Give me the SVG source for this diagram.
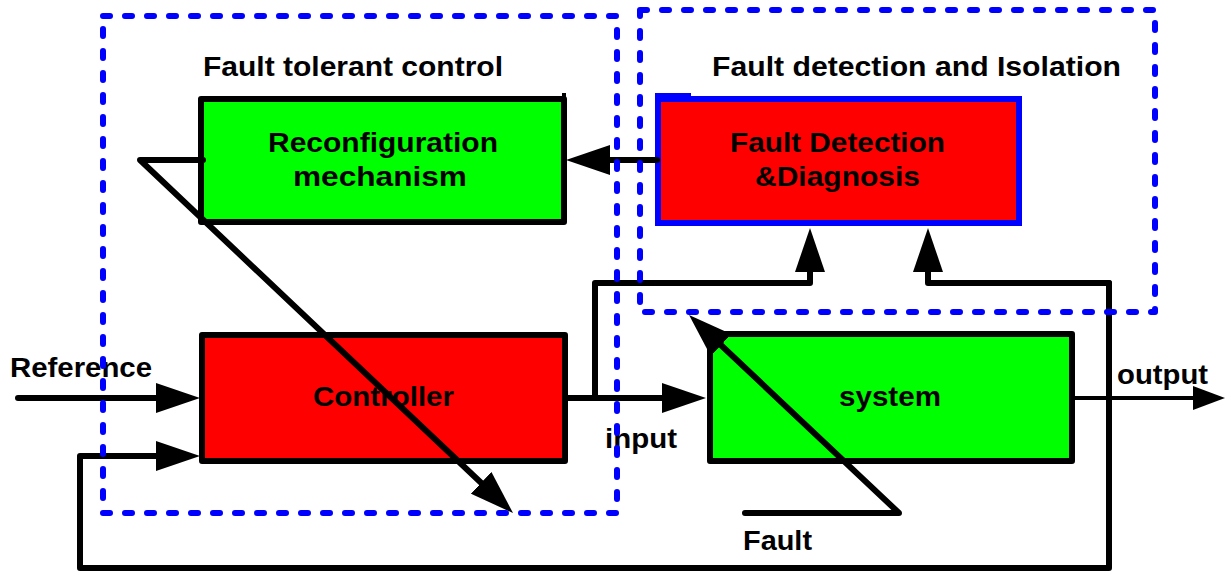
<svg xmlns="http://www.w3.org/2000/svg" width="1225" height="573" viewBox="0 0 1225 573">
<style>
.lbl{font-family:"Liberation Sans",Arial,sans-serif;font-weight:bold;font-size:27px;fill:#000}
.mid{text-anchor:middle}
.box{stroke:#000;stroke-width:6;stroke-linejoin:round}
.green{fill:#00ff00}
.red{fill:#ff0000}
.conn{fill:none;stroke:#000;stroke-width:6;stroke-linejoin:round;stroke-linecap:round}
.thin{fill:none;stroke:#000;stroke-width:4}
.grp{fill:none;stroke:#0000ff;stroke-width:6;stroke-dasharray:7 15;stroke-linecap:round;stroke-linejoin:round}
</style>
<defs>
<marker id="ah" viewBox="0 0 44 30" refX="24" refY="15" markerWidth="44" markerHeight="30" markerUnits="userSpaceOnUse" orient="auto">
<path d="M0,0 L44,15 L0,30 Z" fill="#000"/>
</marker>
<marker id="ahs" viewBox="0 0 32 24" refX="16" refY="12" markerWidth="32" markerHeight="24" markerUnits="userSpaceOnUse" orient="auto">
<path d="M0,0 L32,12 L0,24 Z" fill="#000"/>
</marker>
</defs>
<rect width="1225" height="573" fill="#fff"/>

<g id="reconfiguration">
<rect class="box green" x="201" y="99" width="363" height="123"/>
<line x1="564" y1="93" x2="564" y2="100" stroke="#000" stroke-width="4"/>
<text class="lbl" x="268" y="152" textLength="230" lengthAdjust="spacingAndGlyphs">Reconfiguration</text>
<text class="lbl" x="293" y="186" textLength="174" lengthAdjust="spacingAndGlyphs">mechanism</text>
</g>

<g id="fdd">
<rect x="658" y="99" width="361" height="124" fill="#ff0000" stroke="#0000ff" stroke-width="6"/>
<rect x="655" y="93" width="36" height="6" fill="#0000ff"/>
<text class="lbl" x="730" y="152" textLength="215" lengthAdjust="spacingAndGlyphs">Fault Detection</text>
<text class="lbl" x="755" y="186" textLength="165" lengthAdjust="spacingAndGlyphs">&amp;Diagnosis</text>
</g>

<g id="controller">
<rect class="box red" x="202" y="335" width="363" height="126"/>
<text class="lbl" x="313" y="406" textLength="141" lengthAdjust="spacingAndGlyphs">Controller</text>
</g>

<g id="system">
<rect class="box green" x="710" y="334" width="362" height="127"/>
<text class="lbl" x="839" y="406" textLength="102" lengthAdjust="spacingAndGlyphs">system</text>
</g>

<g id="labels">
<text class="lbl" x="10" y="377" textLength="142" lengthAdjust="spacingAndGlyphs">Reference</text>
<text class="lbl" x="605" y="448" textLength="72" lengthAdjust="spacingAndGlyphs">input</text>
<text class="lbl" x="1117" y="384" textLength="91" lengthAdjust="spacingAndGlyphs">output</text>
<text class="lbl" x="743" y="550" textLength="69" lengthAdjust="spacingAndGlyphs">Fault</text>
</g>

<g id="connectors">
<path class="conn" d="M18,398 H180" marker-end="url(#ah)"/>
<path class="conn" d="M1109,283 V568 H80 V456 H180" marker-end="url(#ah)"/>
<path class="conn" d="M1109,283 H928 V248" marker-end="url(#ah)"/>
<path class="conn" d="M565,398 H686" marker-end="url(#ah)"/>
<path class="conn" d="M595,398 V283 H810 V248" marker-end="url(#ah)"/>
<path class="conn" d="M657,160 H586" marker-end="url(#ah)"/>
<path class="conn" d="M203,160 H140 L498.5,499.3" marker-end="url(#ah)"/>
<path class="conn" d="M745,513 H899 L703.6,328.7" marker-end="url(#ah)"/>
<path class="thin" d="M1073,398 H1209" marker-end="url(#ahs)"/>
</g>

<g id="fault-tolerant-control">
<rect class="grp" x="103" y="16" width="514" height="497"/>
<text class="lbl" x="203" y="76" textLength="300" lengthAdjust="spacingAndGlyphs">Fault tolerant control</text>
</g>
<g id="fault-detection-isolation">
<rect class="grp" x="640" y="10" width="515" height="302"/>
<text class="lbl" x="712" y="76" textLength="409" lengthAdjust="spacingAndGlyphs">Fault detection and Isolation</text>
</g>
</svg>
